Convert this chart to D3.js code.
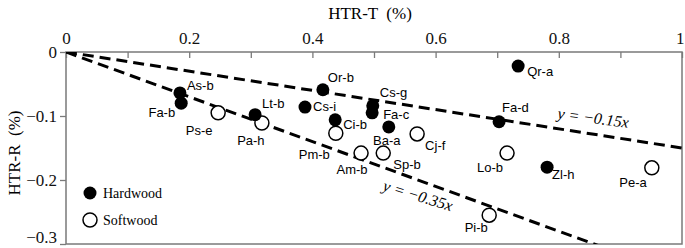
<!DOCTYPE html>
<html>
<head>
<meta charset="utf-8">
<script src="https://cdn.jsdelivr.net/npm/d3@7"></script>
<style>
  body { margin: 0; background: #fff; }
  svg { display: block; }
  .tick text { font-family: "Liberation Serif", serif; font-size: 17px; fill: #111; }
</style>
</head>
<body>
<div id="chart"></div>
<script>
// point names, HTR-T and HTR-R values (%)
const hardNames = ["As-b", "Fa-b", "Or-b", "Cs-i", "Cs-g", "Fa-c", "Lt-b", "Ci-b", "Ba-a", "Fa-d", "Qr-a", "Zl-h"];
const hardT = [0.185, 0.187, 0.417, 0.388, 0.498, 0.497, 0.307, 0.437, 0.524, 0.703, 0.734, 0.781];
const hardR = [-0.064, -0.080, -0.059, -0.086, -0.084, -0.095, -0.098, -0.106, -0.117, -0.109, -0.022, -0.180];

const softNames = ["Ps-e", "Pa-h", "Pm-b", "Am-b", "Sp-b", "Cj-f", "Lo-b", "Pe-a", "Pi-b"];
const softT = [0.247, 0.318, 0.438, 0.479, 0.515, 0.570, 0.716, 0.951, 0.687];
const softR = [-0.095, -0.111, -0.127, -0.158, -0.158, -0.128, -0.158, -0.181, -0.255];

// reference lines y = k x
const slopes = [-0.15, -0.35];
const slopeLabels = ["y = \u22120.15x", "y = \u22120.35x"];

const xTicks = [0, 0.1, 0.2, 0.3, 0.4, 0.5, 0.6, 0.7, 0.8, 0.9, 1];
const yTicks = [0, -0.1, -0.2, -0.3];

// label placement for each point: [dx, dy, anchor]
const hardLabelPos = [[7, -3, "start"], [-6, 14, "end"], [5, -8, "start"], [8, 4, "start"],
  [7, -9, "start"], [11, 6, "start"], [7, -7, "start"], [8, 9, "start"],
  [-2, 18, "middle"], [3, -10, "start"], [9, 10, "start"], [5, 12, "start"]];
const softLabelPos = [[-19, 22, "middle"], [-11, 22, "middle"], [-6, 26, "end"], [-9, 21, "middle"],
  [10, 16, "start"], [8, 16, "start"], [-4, 19, "end"], [-5, 19, "end"], [-13, 17, "middle"]];

const width = 685, height = 248;
const pLeft = 66, pRight = 682, pTop = 52, pBottom = 244;

const svg = d3.select("#chart").append("svg")
  .attr("width", width)
  .attr("height", height);

const x = d3.scaleLinear().domain([0, 1]).range([pLeft, pRight]);
const y = d3.scaleLinear().domain([-0.3, 0]).range([pBottom, pTop]);

// frame
svg.append("rect")
  .attr("x", pLeft).attr("y", pTop)
  .attr("width", pRight - pLeft).attr("height", pBottom - pTop)
  .attr("fill", "none")
  .attr("stroke", "#7a7a7a")
  .attr("stroke-width", 1.5);

// top axis, ticks pointing in
const xAxis = svg.append("g")
  .attr("transform", `translate(0,${pTop})`)
  .call(d3.axisTop(x)
    .tickValues(xTicks)
    .tickSize(-6)
    .tickPadding(8)
    .tickFormat(d => (Math.round(d * 10) % 2 === 0) ? String(+d.toFixed(1)) : ""));
xAxis.select(".domain").remove();
xAxis.selectAll(".tick line").attr("stroke", "#7a7a7a").attr("stroke-width", 1.3);
// last label sits against the right edge
xAxis.selectAll(".tick").filter(d => d === 1).select("text")
  .attr("text-anchor", "end").attr("x", 2);

// left axis, ticks pointing out
const yAxis = svg.append("g")
  .attr("transform", `translate(${pLeft},0)`)
  .call(d3.axisLeft(y)
    .tickValues(yTicks)
    .tickSize(6)
    .tickPadding(3)
    .tickFormat(d => d === 0 ? "0" : d3.format(".1f")(d)));
yAxis.select(".domain").remove();
yAxis.selectAll(".tick line").attr("stroke", "#7a7a7a").attr("stroke-width", 1.3);
yAxis.selectAll(".tick text").attr("dy", "0.3em");
yAxis.selectAll(".tick").filter(d => d === -0.3).select("text").attr("dy", "-0.1em");

// axis titles
svg.append("text")
  .attr("x", 370).attr("y", 19)
  .attr("text-anchor", "middle")
  .style("font-family", "Liberation Serif, serif")
  .style("font-size", "17px")
  .style("white-space", "pre")
  .text("HTR-T  (%)");

svg.append("text")
  .attr("transform", "translate(20,153) rotate(-90)")
  .attr("text-anchor", "middle")
  .style("font-family", "Liberation Serif, serif")
  .style("font-size", "17px")
  .style("white-space", "pre")
  .text("HTR-R  (%)");

// dashed reference lines, clipped to the plot area
svg.append("clipPath").attr("id", "plot-clip")
  .append("rect")
  .attr("x", pLeft).attr("y", pTop)
  .attr("width", pRight - pLeft).attr("height", pBottom - pTop);

svg.append("g")
  .attr("clip-path", "url(#plot-clip)")
  .selectAll("line.ref")
  .data(slopes)
  .enter().append("line")
    .attr("class", "ref")
    .attr("x1", x(0)).attr("y1", y(0))
    .attr("x2", x(1)).attr("y2", k => y(k))
    .attr("stroke", "#000")
    .attr("stroke-width", 3)
    .attr("stroke-dasharray", "11,6");

// line labels, rotated along each line
const slopeLabelAt = [[0.797, -0.104], [0.513, -0.216]];
svg.selectAll("text.ref-label")
  .data(slopes)
  .enter().append("text")
    .attr("class", "ref-label")
    .attr("transform", (k, i) => {
      const ang = Math.atan2(y(k) - y(0), x(1) - x(0)) * 180 / Math.PI;
      return `translate(${x(slopeLabelAt[i][0])},${y(slopeLabelAt[i][1])}) rotate(${ang * 0.85})`;
    })
    .style("font-family", "Liberation Serif, serif")
    .style("font-style", "italic")
    .style("font-size", "16px")
    .text((k, i) => slopeLabels[i]);

const hardData = hardNames.map((n, i) => ({ name: n, t: hardT[i], r: hardR[i], pos: hardLabelPos[i] }));
const softData = softNames.map((n, i) => ({ name: n, t: softT[i], r: softR[i], pos: softLabelPos[i] }));

// softwood: open circles
svg.append("g")
  .selectAll("circle")
  .data(softData)
  .enter().append("circle")
    .attr("cx", d => x(d.t))
    .attr("cy", d => y(d.r))
    .attr("r", 7)
    .attr("fill", "#fff")
    .attr("stroke", "#000")
    .attr("stroke-width", 1.5);

// hardwood: filled dots
svg.append("g")
  .selectAll("circle")
  .data(hardData)
  .enter().append("circle")
    .attr("cx", d => x(d.t))
    .attr("cy", d => y(d.r))
    .attr("r", 6.5)
    .attr("fill", "#000");

// point labels
svg.append("g")
  .selectAll("text")
  .data(hardData.concat(softData))
  .enter().append("text")
    .attr("x", d => x(d.t) + d.pos[0])
    .attr("y", d => y(d.r) + d.pos[1])
    .attr("text-anchor", d => d.pos[2])
    .style("font-family", "Liberation Sans, Arial, sans-serif")
    .style("font-size", "13px")
    .text(d => d.name);

// legend
const legend = svg.append("g").attr("transform", "translate(90,193)");
legend.append("circle").attr("cx", 0).attr("cy", 0).attr("r", 6.5).attr("fill", "#000");
legend.append("text").attr("x", 13).attr("y", 5)
  .style("font-family", "Liberation Serif, serif").style("font-size", "14px").text("Hardwood");
legend.append("circle").attr("cx", 0).attr("cy", 27).attr("r", 7)
  .attr("fill", "#fff").attr("stroke", "#000").attr("stroke-width", 1.5);
legend.append("text").attr("x", 13).attr("y", 32)
  .style("font-family", "Liberation Serif, serif").style("font-size", "14px").text("Softwood");
</script>
</body>
</html>
